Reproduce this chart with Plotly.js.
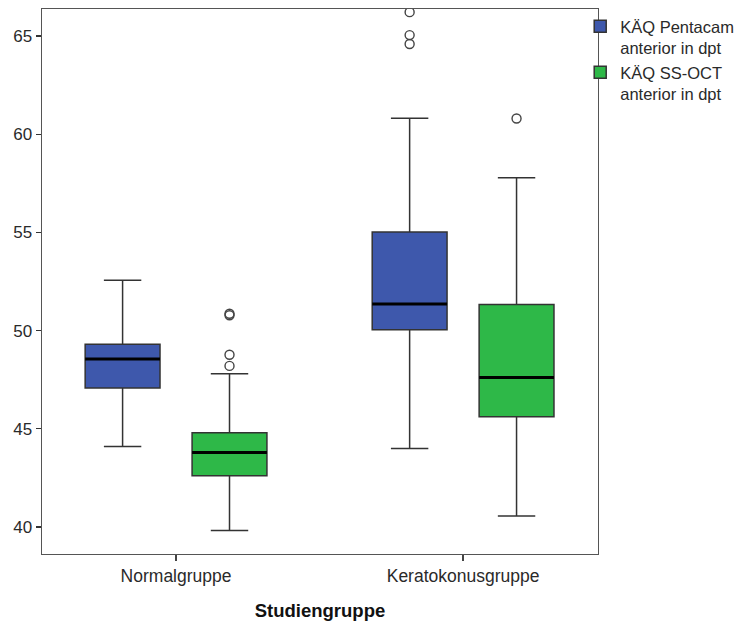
<!DOCTYPE html>
<html>
<head>
<meta charset="utf-8">
<script src="https://cdn.plot.ly/plotly-3.0.1.min.js"></script>
<style>html,body{margin:0;padding:0;background:#fff;}#chart{width:749px;height:621px;}</style>
</head>
<body>
<div id="chart"></div>
<script>
// ---- data ----
const categories = ['Normalgruppe', 'Keratokonusgruppe'];
const seriesNames = ['KÄQ Pentacam<br>anterior in dpt', 'KÄQ SS-OCT<br>anterior in dpt'];
const colors = ['#3e58ac', '#2eb848'];

const pentacamLower = [44.10, 44.00];
const pentacamQ1 = [47.07, 50.04];
const pentacamMedian = [48.55, 51.35];
const pentacamQ3 = [49.31, 55.02];
const pentacamUpper = [52.57, 60.82];
const pentacamOutlierCat = [1, 1, 1];
const pentacamOutliers = [66.22, 65.05, 64.60];

const octLower = [39.82, 40.56];
const octQ1 = [42.60, 45.61];
const octMedian = [43.79, 47.61];
const octQ3 = [44.79, 51.33];
const octUpper = [47.80, 57.78];
const octOutlierCat = [0, 0, 0, 0, 1];
const octOutliers = [50.78, 50.86, 48.77, 48.20, 60.80];

const yTicks = [40, 45, 50, 55, 60, 65];

// ---- layout constants ----
const boxgap = 0.255, boxgroupgap = 0.30;
const catIdx = categories.map((c, i) => i);
const offset = 0.25 * (1 - boxgap);              // group offset of each trace
const halfW = 0.25 * (1 - boxgap) * (1 - boxgroupgap); // half box width

const series = [
  {name: seriesNames[0], color: colors[0], lo: pentacamLower, q1: pentacamQ1, med: pentacamMedian, q3: pentacamQ3, hi: pentacamUpper, oc: pentacamOutlierCat, ov: pentacamOutliers, sign: -1},
  {name: seriesNames[1], color: colors[1], lo: octLower, q1: octQ1, med: octMedian, q3: octQ3, hi: octUpper, oc: octOutlierCat, ov: octOutliers, sign: 1}
];

const traces = [];
const shapes = [];
series.forEach(s => {
  traces.push({
    type: 'box', name: s.name, x: catIdx,
    q1: s.q1, median: s.med, q3: s.q3, lowerfence: s.lo, upperfence: s.hi,
    fillcolor: s.color, line: {color: '#333', width: 1.5},
    whiskerwidth: 0.5, hoverinfo: 'skip', boxpoints: false
  });
  traces.push({
    type: 'scatter', mode: 'markers', showlegend: false, hoverinfo: 'skip',
    x: s.oc.map(i => i + s.sign * offset), y: s.ov,
    marker: {symbol: 'circle-open', size: 9, color: '#444', line: {width: 1.4, color: '#444'}}
  });
  s.med.forEach((m, i) => {
    shapes.push({type: 'line', xref: 'x', yref: 'y',
      x0: i + s.sign * offset - halfW, x1: i + s.sign * offset + halfW, y0: m, y1: m,
      line: {color: '#000', width: 3}, layer: 'above'});
  });
});

const fontFam = '"Liberation Sans", Arial, sans-serif';
const layout = {
  width: 749, height: 621,
  margin: {l: 42, r: 151, t: 9, b: 67, pad: 0, autoexpand: false},
  paper_bgcolor: '#fff', plot_bgcolor: '#fff',
  font: {family: fontFam, color: '#2a2a2a', size: 17},
  boxmode: 'group', boxgap: boxgap, boxgroupgap: boxgroupgap,
  showlegend: true,
  legend: {x: 0.968, xanchor: 'left', y: 1.0, yanchor: 'top', font: {size: 16.5, color: '#2a2a2a'},
           bgcolor: 'rgba(0,0,0,0)', valign: 'top', tracegroupgap: 0, borderwidth: 0},
  xaxis: {
    range: [-0.467, 1.47], tickvals: catIdx, ticktext: categories,
    ticks: 'outside', ticklen: 6, tickwidth: 1.4, tickcolor: '#444',
    showline: true, mirror: true, linecolor: '#555', linewidth: 1.4,
    showgrid: false, zeroline: false, tickfont: {size: 17.5, color: '#2a2a2a'},
    title: {text: '<b>Studiengruppe</b>', font: {size: 18.5, color: '#111'}, standoff: 18}
  },
  yaxis: {
    range: [38.62, 66.38], tickvals: yTicks,
    ticks: 'outside', ticklen: 5, tickwidth: 1.4, tickcolor: '#333',
    showline: true, mirror: true, linecolor: '#555', linewidth: 1.4,
    showgrid: false, zeroline: false, tickfont: {size: 17, color: '#2a2a2a'}
  },
  shapes: shapes
};

Plotly.newPlot('chart', traces, layout, {displayModeBar: false, staticPlot: true});
</script>
</body>
</html>
